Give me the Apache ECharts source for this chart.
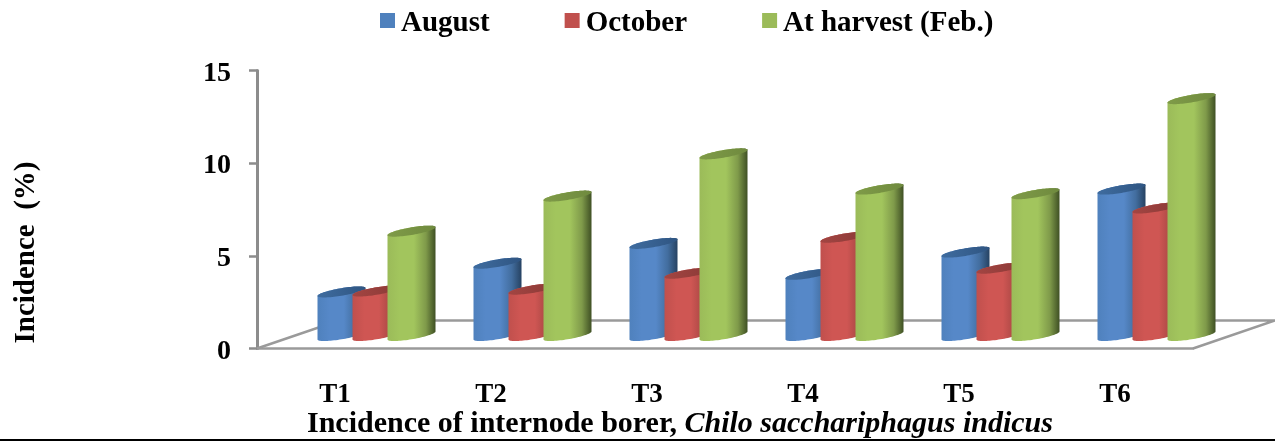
<!DOCTYPE html>
<html>
<head>
<meta charset="utf-8">
<title>Incidence of internode borer</title>
<script src="https://cdn.jsdelivr.net/npm/echarts@6/dist/echarts.min.js"></script>
<style>
  html, body { margin: 0; padding: 0; background: #fff; }
  #chart { width: 1275px; height: 441px; }
</style>
</head>
<body>
<div id="chart"></div>
<script>
const categories = ['T1', 'T2', 'T3', 'T4', 'T5', 'T6']
const august = [2.35, 3.9, 4.97, 3.3, 4.5, 7.9]
const october = [2.4, 2.5, 3.36, 5.3, 3.63, 6.88]
const harvest = [5.63, 7.52, 9.8, 7.9, 7.65, 12.78]
const yTicks = [0, 5, 10, 15]

const serif = '"Liberation Serif", "Times New Roman", serif'

// [left edge, light, mid, dark, top light, top dark]
const blueShade = ['#4f81bd', '#5688c8', '#426d9e', '#264262', '#3f6c9f', '#2f5582']
const redShade = ['#c0504d', '#cf5653', '#a94744', '#773330', '#a34542', '#8a3936']
const greenShade = ['#9bbb59', '#a2c55d', '#7f9a4a', '#3f5024', '#7f9b48', '#6f8a3e']

const barWidth = 48
const barStep = 35
const baseLift = 9 // bars stand on the floor, not on the front edge
const tilt = 8
const capRadius = 3.8

const ellipsePoint = (cx, cy, t) => [
  cx + barWidth / 2 * Math.cos(t),
  cy + capRadius * Math.sin(t) - tilt / 2 * Math.cos(t)
]

const sideGradient = (c) => new echarts.graphic.LinearGradient(0, 0, 1, 0, [
  { offset: 0, color: c[0] },
  { offset: 0.25, color: c[1] },
  { offset: 0.55, color: c[1] },
  { offset: 0.8, color: c[2] },
  { offset: 1, color: c[3] }
])

const makeCylinder = (slot, shade) => (params, api) => {
  const top = api.coord([api.value(0), api.value(1)])
  const bottom = api.coord([api.value(0), 0])
  const band = api.size([1, 0])[0]
  const left = bottom[0] + (slot - 0.5) * band * (barStep / 156)
  const cx = left + barWidth / 2
  const cyTop = top[1] - baseLift - tilt / 2
  const cyBottom = bottom[1] - baseLift - tilt / 2

  const body = []
  const cap = []
  for (let i = 0; i <= 40; i++) {
    body.push(ellipsePoint(cx, cyTop, Math.PI * i / 40 + Math.PI))
  }
  for (let i = 0; i <= 40; i++) {
    body.push(ellipsePoint(cx, cyBottom, Math.PI * i / 40))
  }
  for (let i = 0; i < 80; i++) {
    cap.push(ellipsePoint(cx, cyTop, Math.PI * 2 * i / 80))
  }

  return {
    type: 'group',
    children: [
      { type: 'polygon', shape: { points: body }, style: { fill: sideGradient(shade) } },
      {
        type: 'polygon',
        shape: { points: cap },
        style: {
          fill: new echarts.graphic.LinearGradient(0, 0, 1, 0, [
            { offset: 0, color: shade[4] },
            { offset: 1, color: shade[5] }
          ])
        }
      }
    ]
  }
}

const renderFloor = (params) => {
  const g = params.coordSys
  const y0 = g.y + g.height
  const dx = 82
  const dy = 28
  return {
    type: 'polyline',
    shape: {
      points: [
        [g.x, y0],
        [g.x + dx, y0 - dy],
        [g.x + g.width + dx, y0 - dy],
        [g.x + g.width, y0]
      ]
    },
    style: { stroke: '#9a9a9a', lineWidth: 2.5, fill: null }
  }
}

const barSeries = (name, values, slot, shade) => ({
  name,
  type: 'custom',
  renderItem: makeCylinder(slot, shade),
  data: values.map((v, i) => [i, v]),
  encode: { x: 0, y: 1 },
  itemStyle: { color: shade[0] },
  silent: true,
  animation: false
})

const chart = echarts.init(document.getElementById('chart'), null, { renderer: 'canvas' })

chart.setOption({
  animation: false,
  backgroundColor: '#fff',
  title: {
    left: 307,
    top: 409,
    padding: 0,
    text: '{b|Incidence of internode borer, }{i|Chilo sacchariphagus indicus}',
    textStyle: {
      rich: {
        b: { fontFamily: serif, fontWeight: 'bold', fontSize: 30, color: '#000' },
        i: { fontFamily: serif, fontWeight: 'bold', fontStyle: 'italic', fontSize: 30, color: '#000' }
      }
    }
  },
  legend: {
    left: 380,
    top: 9,
    padding: 0,
    itemWidth: 15,
    itemHeight: 15,
    itemGap: 75,
    icon: 'rect',
    data: ['August', 'October', 'At harvest (Feb.)'],
    formatter: '{a|{name}}',
    textStyle: {
      rich: {
        a: {
          fontFamily: serif,
          fontWeight: 'bold',
          fontSize: 29,
          color: '#000',
          padding: [6, 0, 0, 1]
        }
      }
    }
  },
  grid: { left: 257, top: 70.5, width: 936, height: 278 },
  xAxis: {
    type: 'category',
    data: categories,
    axisLine: { lineStyle: { color: '#9a9a9a', width: 2.5 } },
    axisTick: { show: false },
    axisLabel: { margin: 33, fontFamily: serif, fontWeight: 'bold', fontSize: 27, color: '#000' }
  },
  yAxis: {
    type: 'value',
    min: yTicks[0],
    max: yTicks[yTicks.length - 1],
    interval: 5,
    axisLine: { show: true, lineStyle: { color: '#8c8c8c', width: 3 } },
    axisTick: { show: true, length: 8, lineStyle: { color: '#8c8c8c', width: 2.5 } },
    splitLine: { show: false },
    axisLabel: {
      margin: 26,
      formatter: '{a|{value}}',
      rich: {
        a: {
          fontFamily: serif,
          fontWeight: 'bold',
          fontSize: 28,
          color: '#000',
          padding: [6, 0, 0, 0]
        }
      }
    }
  },
  series: [
    {
      type: 'custom',
      renderItem: renderFloor,
      data: [[0, 0]],
      encode: { x: 0, y: 1 },
      silent: true
    },
    barSeries('August', august, 0, blueShade),
    barSeries('October', october, 1, redShade),
    barSeries('At harvest (Feb.)', harvest, 2, greenShade)
  ],
  graphic: [
    {
      type: 'text',
      x: 27,
      y: 252.5,
      rotation: Math.PI / 2,
      style: {
        text: 'Incidence  (%)',
        fontFamily: serif,
        fontWeight: 'bold',
        fontSize: 29,
        fill: '#000',
        align: 'center',
        verticalAlign: 'middle'
      }
    },
    {
      type: 'line',
      shape: { x1: 0, y1: 440, x2: 1275, y2: 440 },
      style: { stroke: '#000', lineWidth: 2 }
    }
  ]
})

window.addEventListener('resize', () => chart.resize())
</script>
</body>
</html>
